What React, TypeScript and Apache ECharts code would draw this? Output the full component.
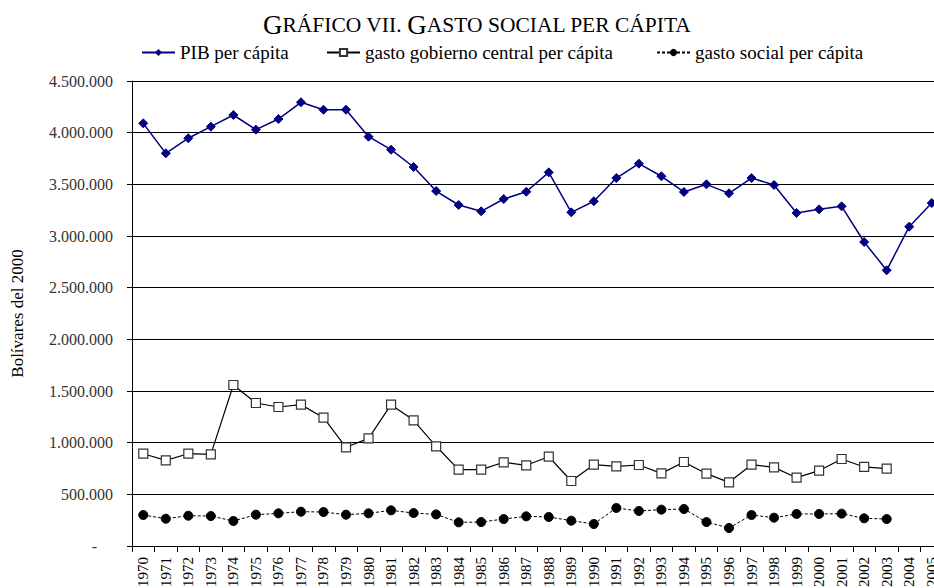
import React, { useEffect, useRef } from "react";
import * as echarts from "echarts";

const years: string[] = [
  "1970","1971","1972","1973","1974","1975","1976","1977","1978","1979",
  "1980","1981","1982","1983","1984","1985","1986","1987","1988","1989",
  "1990","1991","1992","1993","1994","1995","1996","1997","1998","1999",
  "2000","2001","2002","2003","2004","2005",
];

const pibPerCapita: (number | null)[] = [
  4090000, 3800000, 3946000, 4058000, 4171000, 4029000, 4132000, 4294000, 4222000, 4222000,
  3961000, 3835000, 3668000, 3435000, 3300000, 3239000, 3358000, 3428000, 3616000, 3229000,
  3336000, 3561000, 3700000, 3578000, 3426000, 3500000, 3413000, 3561000, 3494000, 3223000,
  3258000, 3287000, 2942000, 2668000, 3090000, 3319000,
];

const gastoGobierno: (number | null)[] = [
  893000, 829000, 893000, 887000, 1558000, 1384000, 1345000, 1368000, 1242000, 955000,
  1042000, 1368000, 1216000, 965000, 739000, 739000, 810000, 781000, 864000, 629000,
  787000, 771000, 784000, 703000, 813000, 700000, 616000, 787000, 761000, 661000,
  729000, 842000, 765000, 748000, null, null,
];

const gastoSocial: (number | null)[] = [
  300000, 264000, 293000, 290000, 242000, 303000, 316000, 332000, 329000, 303000,
  316000, 345000, 319000, 306000, 229000, 232000, 261000, 287000, 281000, 245000,
  213000, 368000, 339000, 352000, 358000, 232000, 174000, 300000, 274000, 310000,
  310000, 313000, 268000, 261000, null, null,
];

const seriesNames = [
  "PIB per cápita",
  "gasto gobierno central per cápita",
  "gasto social per cápita",
];

const FONT = "'Liberation Serif', 'Times New Roman', serif";

function fmt(v: number): string {
  if (v === 0) return "-    ";
  return String(Math.round(v)).replace(/\B(?=(\d{3})+(?!\d))/g, ".");
}

const legendLefts = [136, 321, 651];

export default function App() {
  const ref = useRef<HTMLDivElement>(null);
  useEffect(() => {
    if (!ref.current) return;
    const chart = echarts.init(ref.current, null, { renderer: "svg" });
    chart.setOption({
      animation: false,
      backgroundColor: "#ffffff",
      textStyle: { fontFamily: FONT },
      title: {
        text: "{big|G}{small|RÁFICO VII. }{big|G}{small|ASTO SOCIAL PER CÁPITA}",
        left: 258,
        top: 6,
        textStyle: {
          fontWeight: "normal",
          rich: {
            big: { fontFamily: FONT, fontSize: 27, fontWeight: "normal", color: "#000" },
            small: { fontFamily: FONT, fontSize: 21.5, fontWeight: "normal", color: "#000" },
          },
        },
      },
      legend: seriesNames.map((n, i) => ({
        top: 38,
        left: legendLefts[i],
        itemWidth: 33,
        itemHeight: 9,
        itemGap: 5,
        textStyle: { fontFamily: FONT, fontSize: 19, color: "#000" },
        data: [n],
      })),
      grid: {
        left: 132,
        top: 81,
        width: 811,
        height: 465,
        containLabel: false,
        outerBoundsMode: "none",
      },
      xAxis: {
        type: "category",
        data: years,
        boundaryGap: true,
        axisLine: { show: true, lineStyle: { color: "#000", width: 1 } },
        axisTick: { show: true, alignWithLabel: false, length: 6, lineStyle: { color: "#000" } },
        axisLabel: {
          rotate: 90,
          interval: 0,
          margin: 11,
          fontFamily: FONT,
          fontSize: 15,
          color: "#000",
        },
      },
      yAxis: {
        type: "value",
        min: 0,
        max: 4500000,
        interval: 500000,
        name: "Bolívares del 2000",
        nameLocation: "middle",
        nameGap: 106,
        nameRotate: 90,
        nameTextStyle: { fontFamily: FONT, fontSize: 17, color: "#000" },
        axisLine: { show: true, lineStyle: { color: "#000", width: 1 } },
        axisTick: { show: true, inside: false, length: 5, lineStyle: { color: "#000" } },
        axisLabel: {
          margin: 19,
          fontFamily: FONT,
          fontSize: 16,
          color: "#333",
          formatter: (v: number) => fmt(v),
        },
        splitLine: { show: true, lineStyle: { color: "#000", width: 1 } },
      },
      series: [
        {
          name: seriesNames[0],
          type: "line",
          data: pibPerCapita,
          symbol: "diamond",
          symbolSize: 9,
          lineStyle: { color: "#000080", width: 1.5 },
          itemStyle: { color: "#000080", borderColor: "#000080" },
        },
        {
          name: seriesNames[1],
          type: "line",
          data: gastoGobierno,
          symbol: "rect",
          symbolSize: 9,
          lineStyle: { color: "#000", width: 1.2 },
          itemStyle: { color: "#ffffff", borderColor: "#333", borderWidth: 1.2 },
        },
        {
          name: seriesNames[2],
          type: "line",
          data: gastoSocial,
          symbol: "circle",
          symbolSize: 9,
          lineStyle: { color: "#000", width: 1, type: [3, 2] },
          itemStyle: { color: "#000", borderColor: "#000" },
        },
      ],
    });
    return () => chart.dispose();
  }, []);
  return (
    <div
      ref={ref}
      style={{ position: "fixed", left: 0, top: 0, width: 934, height: 588 }}
    />
  );
}
